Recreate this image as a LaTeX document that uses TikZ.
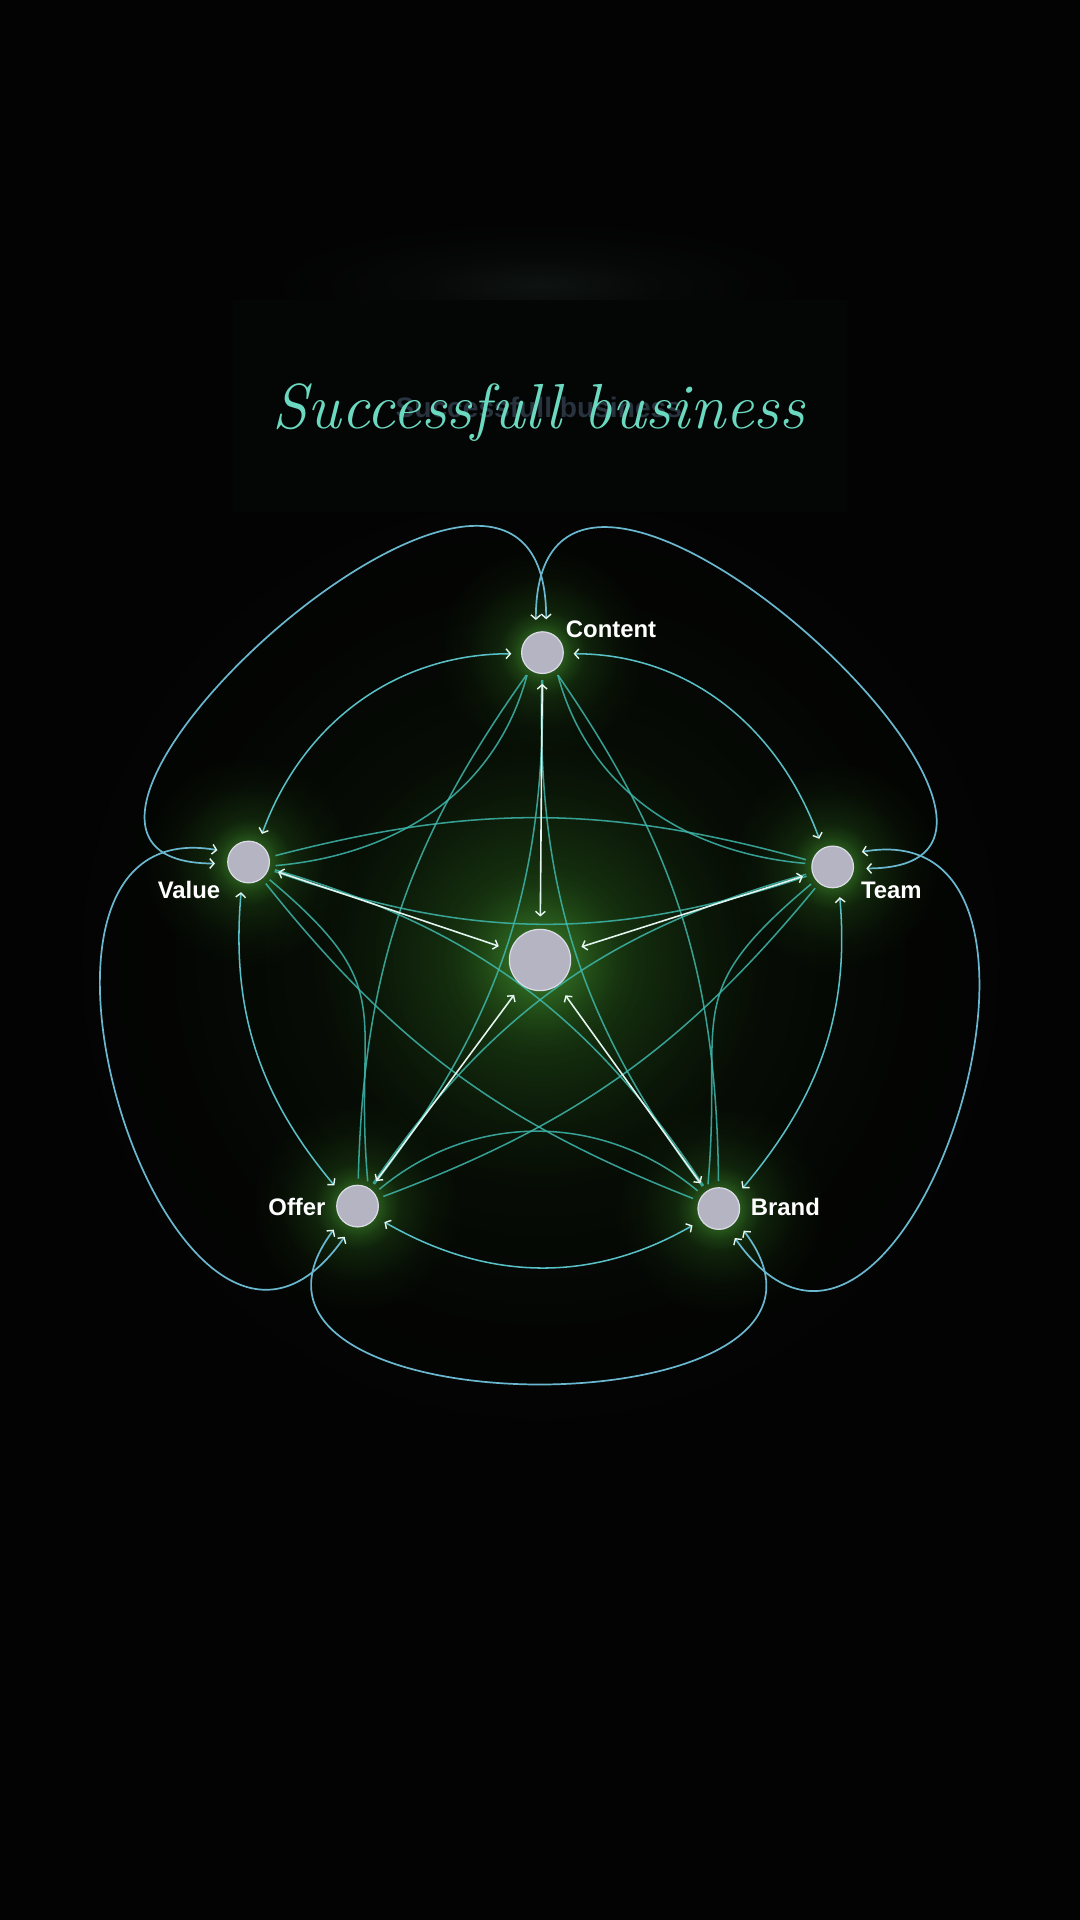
\documentclass[tikz,border=0pt]{standalone}
\usepackage{fontspec}
\newfontfamily\lblfont{Liberation Sans}
\usetikzlibrary{arrows.meta,fadings}
\pgfdeclarelayer{glowlayer}
\pgfdeclarelayer{linelayer}
\pgfsetlayers{glowlayer,linelayer,main}
\definecolor{bgc}{HTML}{030303}
\definecolor{boxc}{HTML}{040505}
\definecolor{hazec}{HTML}{1A2420}
\definecolor{mint}{HTML}{6AD9C0}
\definecolor{ghostc}{HTML}{28333F}
\definecolor{linec}{HTML}{3FB8AC}
\definecolor{arrowc}{HTML}{58C0C6}
\definecolor{loopc}{HTML}{6AB8D0}
\definecolor{spokec}{HTML}{E2F4EE}
\definecolor{tipc}{HTML}{E6F6F2}
\definecolor{nodefill}{HTML}{B4B4C2}
\definecolor{noderim}{HTML}{DCDCE8}
\definecolor{glowc}{HTML}{2E6B1F}
\definecolor{rimglow}{HTML}{5DBE45}
\pgfdeclareradialshading{glowshade}{\pgfpointorigin}{color(0bp)=(pgftransparent!0); color(4bp)=(pgftransparent!30); color(10bp)=(pgftransparent!68); color(17bp)=(pgftransparent!90); color(24bp)=(pgftransparent!100); color(50bp)=(pgftransparent!100)}
\pgfdeclarefading{glowfade}{\pgfuseshading{glowshade}}
\tikzset{
  >={Straight Barb[length=3.5pt,width=8pt,line width=1.15pt,color=tipc]},
  link/.style={draw=linec, line width=1.25pt, shorten <=5pt, shorten >=5pt, opacity=0.85},
  dual/.style={draw=arrowc, line width=1.25pt, <->, shorten <=8pt, shorten >=8pt},
  bigloop/.style={draw=loopc, line width=1.4pt, <->, shorten <=10pt, shorten >=10pt},
  spoke/.style={draw=spokec, line width=1.3pt, <->, shorten <=8pt, shorten >=10pt},
  pnode/.style={circle, inner sep=0pt, minimum size=34pt, fill=nodefill, draw=noderim, line width=1pt},
  cnode/.style={pnode, minimum size=50pt},
  lbl/.style={font=\lblfont\bfseries\fontsize{19.5}{22}\selectfont, text=white, inner sep=0pt},
  titletext/.style={font=\itshape\fontsize{52}{60}\selectfont, text=mint, inner sep=0pt},
  ghosttext/.style={font=\lblfont\bfseries\fontsize{23}{26}\selectfont, text=ghostc, inner sep=0pt},
  glowbig/.style={fill=glowc, path fading=glowfade, fill opacity=0.85},
  glowrim/.style={fill=rimglow, path fading=glowfade, fill opacity=0.65},
}
\begin{document}
\begin{tikzpicture}[x=1pt,y=1pt]
\path[use as bounding box] (0,0) rectangle (882,1568);
\begin{pgfonlayer}{glowlayer}
  \fill[bgc] (0,0) rectangle (882,1568);
  \fill[hazec, path fading=glowfade, fill opacity=0.5] (441,1335) ellipse (260pt and 60pt);
  \fill[boxc] (190,1150) rectangle (692,1323);
\end{pgfonlayer}

% title
\node[ghosttext, anchor=base] (ghost) at (440,1227) {Successfull business};
\node[titletext, anchor=base] (title) at (440,1218) {Successfull business};

% nodes
\node[pnode] (C) at (443,1035) {};
\node[pnode] (T) at (680,860) {};
\node[pnode] (V) at (203,864) {};
\node[pnode] (O) at (292,583) {};
\node[pnode] (B) at (587,581) {};
\node[cnode] (M) at (441,784) {};

% labels
\node[lbl, anchor=west] (Clbl) at (462,1054) {Content};
\node[lbl, anchor=west] (Tlbl) at (703,841) {Team};
\node[lbl, anchor=east] (Vlbl) at (180,841) {Value};
\node[lbl, anchor=east] (Olbl) at (266,582) {Offer};
\node[lbl, anchor=west] (Blbl) at (613,582) {Brand};

% glows
\begin{pgfonlayer}{glowlayer}
  \fill[glowc, path fading=glowfade, fill opacity=0.3] (M) circle (430pt);
  \fill[glowc, path fading=glowfade, fill opacity=0.75] (M) circle (200pt);
  \fill[rimglow, path fading=glowfade, fill opacity=0.6] (M) circle (70pt);
  \foreach \n in {C,T,V,O,B}{
    \fill[glowbig] (\n) circle (90pt);
    \fill[glowrim] (\n) circle (36pt);
  }
\end{pgfonlayer}

\begin{pgfonlayer}{linelayer}
  % diagonals (inner and outer)
  \draw[link] (C) to[bend left=19] (O);
  \draw[link] (C) to[bend right=17] (O);
  \draw[link] (C) to[bend right=19] (B);
  \draw[link] (C) to[bend left=17] (B);
  \draw[link] (V) to[bend left=20] (B);
  \draw[link] (V) to[bend right=15] (B);
  \draw[link] (T) to[bend right=20] (O);
  \draw[link] (T) to[bend left=15] (O);
  \draw[link] (V.-20) to[bend right=19] (T.-160);
  \draw[link] (V.13) to[bend left=15] (T.165);
  % adjacent inward curves
  \draw[link] (V.-11) to[out=5,in=-105] (C.-130);
  \draw[link] (T.172) to[out=175,in=-75] (C.-50);
  \draw[link] (V.-40) to[out=-40,in=95,looseness=1.4] (O.60);
  \draw[link] (T.-142) to[out=-140,in=85,looseness=1.4] (B.122);
  \draw[link] (O.37) to[out=40,in=140] (B.140);
  % adjacent outward curves with arrows
  \draw[dual] (C.-3) to[out=0,in=110] (T.118);
  \draw[dual] (C.183) to[out=180,in=70] (V.62);
  \draw[dual] (V.-108) to[out=-95,in=130] (O.142);
  \draw[dual] (T.-73) to[out=-85,in=50] (B.36);
  \draw[dual] (O.-31) to[out=-30,in=-150] (B.-146);
  % big outer loops
  \draw[bigloop] (V.184) to[out=180,in=90,out distance=230pt,in distance=260pt] (C.80);
  \draw[bigloop] (T.-4) to[out=0,in=90,out distance=230pt,in distance=260pt] (C.108);
  \draw[bigloop] (V.153) to[out=170,in=-125,out distance=220pt,in distance=250pt] (O.-106);
  \draw[bigloop] (T.37) to[out=10,in=-55,out distance=220pt,in distance=250pt] (B.-65);
  \draw[bigloop] (O.-140) to[out=-127,in=-53,out distance=220pt,in distance=220pt] (B.-35);
  % spokes to the centre
  \draw[spoke] (C) -- (M);
  \draw[spoke] (V) -- (M);
  \draw[spoke] (T) -- (M);
  \draw[spoke] (O) -- (M);
  \draw[spoke] (B) -- (M);
\end{pgfonlayer}
\end{tikzpicture}
\end{document}
